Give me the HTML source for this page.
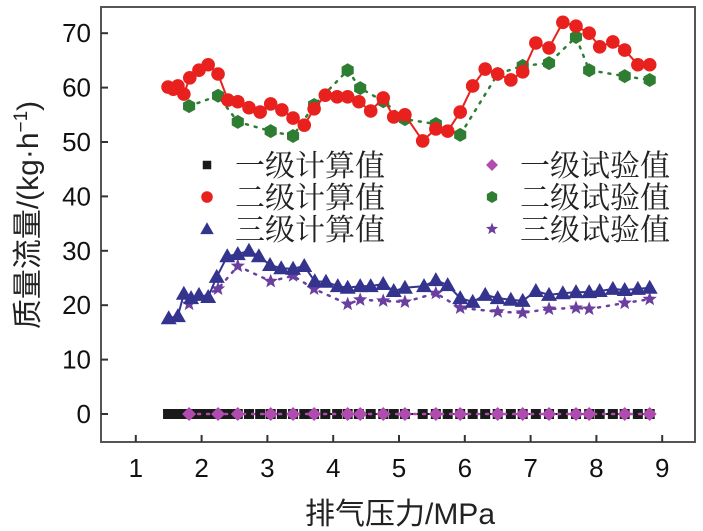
<!DOCTYPE html>
<html><head><meta charset="utf-8">
<style>
html,body{margin:0;padding:0;background:#fff;}
svg{display:block;}
.tk{font-family:"Liberation Sans",Arial,sans-serif;font-size:26px;fill:#111;}
.lg{font-family:"Liberation Serif","Noto Serif CJK SC",serif;font-size:30px;fill:#222;}
.ax{font-family:"Liberation Sans","Noto Sans CJK SC",sans-serif;font-size:30px;fill:#222;}
</style></head>
<body>
<svg id="chart" width="703" height="531" viewBox="0 0 703 531">
  <rect x="101" y="7" width="594" height="435" fill="#fff" stroke="#555" stroke-width="2"/>
  <g id="axes"></g>
  <g id="series"></g>
  <g id="legend"></g>
  <text class="ax" x="400" y="524" text-anchor="middle">排气压力/MPa</text>
  <text class="ax" transform="translate(38,215) rotate(-90)" text-anchor="middle">质量流量/(kg·h<tspan dy="-11" font-size="19">−1</tspan><tspan dy="11">)</tspan></text>
</svg>
<script>
const xTicks=[1,2,3,4,5,6,7,8,9];
const yTicks=[0,10,20,30,40,50,60,70];
const calcX=[1.49,1.57,1.64,1.73,1.82,1.96,2.10,2.25,2.40,2.55,2.72,2.89,3.05,3.22,3.39,3.56,3.71,3.88,4.06,4.22,4.39,4.57,4.76,4.92,5.09,5.36,5.56,5.74,5.93,6.12,6.31,6.50,6.70,6.88,7.08,7.28,7.49,7.69,7.89,8.05,8.25,8.43,8.63,8.81];
const calc1=calcX.map(()=>0);
const calc2=[60.1,59.7,60.3,58.8,61.8,63.2,64.2,62.5,57.7,57.4,56.3,55.5,57.0,55.9,54.4,53.1,56.1,58.6,58.3,58.3,57.4,55.7,58.1,54.6,55.0,50.2,52.4,52.0,55.5,60.3,63.4,62.5,61.4,62.9,68.2,67.3,72.0,71.3,70.0,67.5,68.4,66.9,64.2,64.2];
const calc3X=[1.50,1.64,1.73,1.84,1.96,2.10,2.23,2.39,2.55,2.72,2.87,3.04,3.21,3.39,3.56,3.72,3.89,4.07,4.22,4.41,4.57,4.76,4.92,5.09,5.38,5.56,5.74,5.93,6.12,6.31,6.50,6.70,6.88,7.08,7.28,7.49,7.69,7.89,8.05,8.25,8.43,8.63,8.81];
const calc3=[17.6,18.0,22.1,21.3,21.9,21.5,25.2,29.0,29.4,30.0,29.0,27.4,26.8,26.7,27.2,24.4,24.3,23.5,23.2,23.5,23.5,23.9,22.6,23.2,23.5,24.6,23.7,21.3,20.6,21.9,21.3,21.0,20.8,22.6,21.9,22.2,22.4,22.4,22.6,23.0,22.8,23.0,23.2];
const testX=[1.81,2.25,2.55,3.05,3.39,3.71,4.22,4.41,4.76,5.09,5.56,5.93,6.50,6.88,7.28,7.69,7.89,8.43,8.81];
const test1=testX.map(()=>0);
const test2=[56.6,58.5,53.7,52.0,51.1,56.8,63.2,59.9,57.5,54.2,53.3,51.3,62.5,64.0,64.5,69.3,63.2,62.1,61.4];
const test3=[20.2,23.0,27.2,24.4,25.4,23.0,20.2,21.0,20.8,20.6,22.2,19.5,18.8,18.6,19.3,19.5,19.3,20.4,21.1];

const NS="http://www.w3.org/2000/svg";
const sx=v=>70+65.8*v, sy=v=>414-5.44*v;
function mk(tag,attrs,parent){const e=document.createElementNS(NS,tag);for(const k in attrs)e.setAttribute(k,attrs[k]);parent.appendChild(e);return e;}
const axes=document.getElementById('axes'), ser=document.getElementById('series'), leg=document.getElementById('legend');

xTicks.forEach(t=>{
  const l=mk('line',{x1:sx(t),x2:sx(t),y1:442,y2:435,stroke:'#333','stroke-width':2},axes);
  
  
  const tx=mk('text',{x:sx(t),y:477,'text-anchor':'middle',class:'tk'},axes);tx.textContent=t;
  
  
});
yTicks.forEach(t=>{
  const l=mk('line',{x1:101,x2:108,y1:sy(t),y2:sy(t),stroke:'#333','stroke-width':2},axes);
  
  
  const tx=mk('text',{x:91,y:sy(t)+9,'text-anchor':'end',class:'tk'},axes);tx.textContent=t;
  
  
});

function marker(type,x,y,color,parent,s){
  s=s||1;let e;
  if(type==='sq') e=mk('rect',{x:x-5*s,y:y-5*s,width:10*s,height:10*s,fill:color},parent);
  else if(type==='ci') e=mk('circle',{cx:x,cy:y,r:6.8*s,fill:color},parent);
  else if(type==='tri') e=mk('polygon',{points:`${x},${y-8*s} ${x+8*s},${y+6*s} ${x-8*s},${y+6*s}`,fill:color},parent);
  else if(type==='dia') e=mk('polygon',{points:`${x},${y-7*s} ${x+7*s},${y} ${x},${y+7*s} ${x-7*s},${y}`,fill:color},parent);
  else if(type==='hex'){let p=[];for(let i=0;i<6;i++){const a=Math.PI/3*i+Math.PI/6;p.push((x+7*s*Math.cos(a))+','+(y+7*s*Math.sin(a)));}e=mk('polygon',{points:p.join(' '),fill:color},parent);}
  else if(type==='star'){let p=[];for(let i=0;i<10;i++){const r=i%2?3.2*s:7.5*s;const a=-Math.PI/2+Math.PI/5*i;p.push((x+r*Math.cos(a))+','+(y+r*Math.sin(a)));}e=mk('polygon',{points:p.join(' '),fill:color},parent);}
  return e;
}
function drawSeries(name,xs,ys,type,color,dotted){
  const g=mk('g',{},ser);
  
  
  const pts=xs.map((x,i)=>sx(x)+','+sy(ys[i])).join(' ');
  const pl=mk('polyline',{points:pts,fill:'none',stroke:color,'stroke-width':dotted?2.5:2,'stroke-dasharray':dotted?'2 7':'none','stroke-linecap':'round'},g);
  
  
  xs.forEach((x,i)=>{const m=marker(type,sx(x),sy(ys[i]),color,g);
    
    });
}
drawSeries('calc-level1',calcX,calc1,'sq','#1a1a1a',false);
drawSeries('test-level1',testX,test1,'dia','#b04cb0',true);
drawSeries('test-level2',testX,test2,'hex','#2e7d32',true);
drawSeries('calc-level2',calcX,calc2,'ci','#e8211e',false);
drawSeries('test-level3',testX,test3,'star','#6a3fa0',true);
drawSeries('calc-level3',calc3X,calc3,'tri','#34348f',false);

const legItems=[['sq','#1a1a1a','一级计算值',207,165],['ci','#e8211e','二级计算值',207,197],['tri','#34348f','三级计算值',207,229],
 ['dia','#b04cb0','一级试验值',492,165],['hex','#2e7d32','二级试验值',492,197],['star','#6a3fa0','三级试验值',492,229]];
legItems.forEach(it=>{
  const g=mk('g',{},leg);
  
  
  marker(it[0],it[3],it[4],it[1],g,0.85);
  const t=mk('text',{x:it[3]+28,y:it[4]+11,class:'lg'},g);t.textContent=it[2];
});
</script>
</body></html>
